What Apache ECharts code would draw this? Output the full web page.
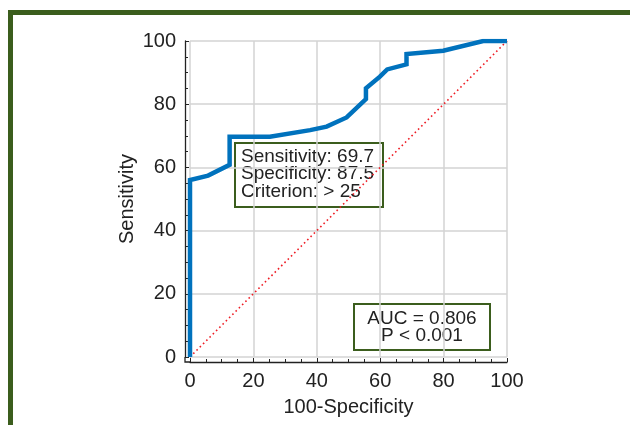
<!DOCTYPE html>
<html>
<head>
<meta charset="utf-8">
<script src="https://cdn.jsdelivr.net/npm/echarts@6/dist/echarts.min.js"></script>
<style>
  html, body { margin: 0; padding: 0; background: #fff; }
  #main { width: 630px; height: 425px; }
</style>
</head>
<body>
<div id="main"></div>
<script>
// ROC curve points (100-Specificity, Sensitivity)
var rocX = [0, 0, 5.7, 12.5, 12.5, 25.2, 37.9, 43.1, 49.4, 55.5, 55.5, 59.9, 62.2, 68.3, 68.3, 79.9, 92.5, 100];
var rocY = [0, 56, 57.4, 60.8, 69.7, 69.7, 71.8, 72.9, 75.8, 81.6, 85.0, 88.7, 91.0, 92.6, 95.9, 96.9, 100, 100];
var diagX = [0, 100];
var diagY = [0, 100];
var statLines = ['Sensitivity: 69.7', 'Specificity: 87.5', 'Criterion: > 25'];
var aucLines = ['AUC = 0.806', 'P < 0.001'];

var FONT = '"Liberation Sans", Arial, sans-serif';
var GREEN = '#3b5d1d';

function pairs(xs, ys) {
  var out = [];
  for (var i = 0; i < xs.length; i++) out.push([xs[i], ys[i]]);
  return out;
}

var chart = echarts.init(document.getElementById('main'));

// 网格轴（只画灰色网格线）
var gridAxis = {
  type: 'value', min: 0, max: 100, interval: 20,
  axisLine: { show: false }, axisTick: { show: false }, axisLabel: { show: false },
  splitLine: { show: true, lineStyle: { color: '#d3d3d3', width: 1.5 } }
};

function showAxis(pos, name, gap) {
  return {
    type: 'value', min: 0, max: 100, interval: 20, position: pos, offset: 5,
    name: name, nameLocation: 'middle', nameGap: gap, nameMoveOverlap: false,
    nameTextStyle: { color: '#222', fontSize: 20, fontFamily: FONT },
    axisLine: { show: true, onZero: false, lineStyle: { color: '#222', width: 1.3 } },
    axisTick: { show: true, inside: true, length: 4, lineStyle: { color: '#222', width: 1 } },
    minorTick: { show: true, splitNumber: 4, length: 3, lineStyle: { color: '#222', width: 1 } },
    axisLabel: { color: '#222', fontSize: 20, fontFamily: FONT, margin: 9 },
    splitLine: { show: false }
  };
}

var option = {
  animation: false,
  grid: { left: 190, top: 41, width: 317, height: 316, containLabel: false },
  xAxis: [gridAxis, showAxis('bottom', '100-Specificity', 35)],
  yAxis: [gridAxis, showAxis('left', 'Sensitivity', 48)],
  series: [
    {
      type: 'line',
      data: pairs(diagX, diagY),
      symbol: 'none',
      lineStyle: { color: '#ee1c24', width: 1.6, type: [1.6, 3] },
      z: 2
    },
    {
      type: 'line',
      data: pairs(rocX, rocY),
      symbol: 'none',
      lineStyle: { color: '#0072bd', width: 4.5, join: 'miter' },
      z: 3
    }
  ],
  graphic: [
    // 外框
    { type: 'rect', shape: { x: 10.5, y: 12.5, width: 800, height: 600 },
      style: { fill: 'none', stroke: GREEN, lineWidth: 5 }, z: 10 },
    // 坐标轴角
    { type: 'polyline', shape: { points: [[185, 357], [185, 362], [190, 362]] },
      style: { fill: 'none', stroke: '#222', lineWidth: 1.3 }, z: 10 },
    {
      type: 'group', left: 234, top: 142, z: 20,
      children: [
        { type: 'rect', shape: { x: 0, y: 0, width: 148, height: 64 },
          style: { fill: '#fff', stroke: GREEN, lineWidth: 2 } },
        { type: 'text', x: 6, y: 5,
          style: { text: statLines.join('\n'), font: '19px ' + FONT, fill: '#222', lineHeight: 17.5 } }
      ]
    },
    {
      type: 'group', left: 353, top: 303, z: 20,
      children: [
        { type: 'rect', shape: { x: 0, y: 0, width: 136, height: 46 },
          style: { fill: '#fff', stroke: GREEN, lineWidth: 2 } },
        { type: 'text', x: 68, y: 6,
          style: { text: aucLines.join('\n'), font: '19px ' + FONT, fill: '#222', lineHeight: 17.5, align: 'center' } }
      ]
    }
  ]
};

chart.setOption(option);
</script>
</body>
</html>
